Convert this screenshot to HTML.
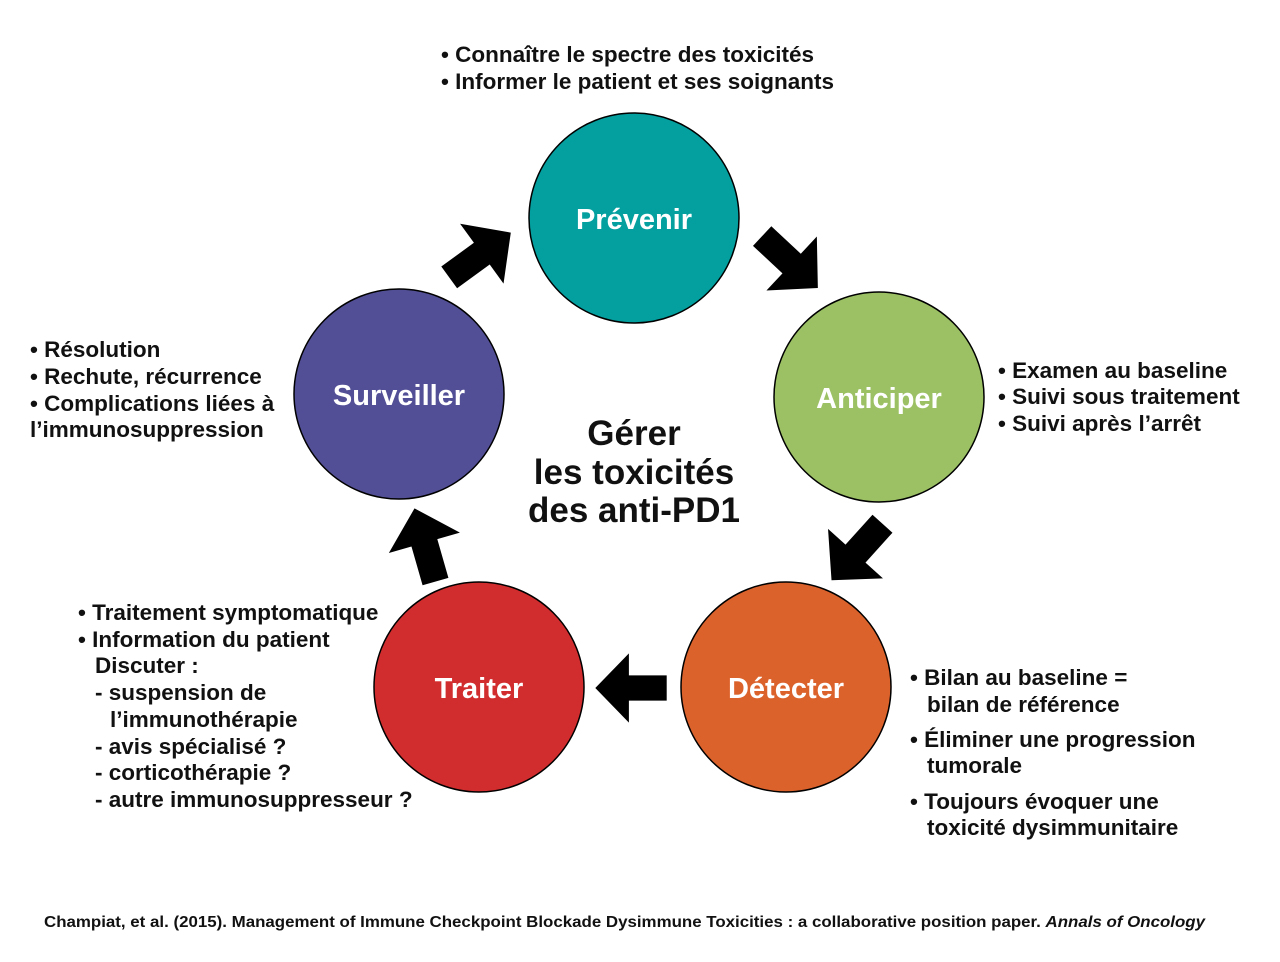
<!DOCTYPE html>
<html><head><meta charset="utf-8"><style>
html,body{margin:0;padding:0;background:#fff;}
svg{display:block;font-family:"Liberation Sans",sans-serif;font-weight:bold;}
.t{font-size:22.5px;fill:#111;}
.c{font-size:29px;fill:#fff;text-anchor:middle;}
.h{font-size:35px;fill:#111;text-anchor:middle;}
</style></head><body>
<svg width="1280" height="962" viewBox="0 0 1280 962">
<defs>
<polygon id="ar" points="-34,-12 2,-12 2,-33 34,0 2,33 2,12 -34,12" fill="#000"/>
</defs>
<circle cx="634" cy="218" r="105" fill="#049f9f" stroke="#000" stroke-width="1.5"/>
<circle cx="879" cy="397" r="105" fill="#9cc164" stroke="#000" stroke-width="1.5"/>
<circle cx="786" cy="687" r="105" fill="#dc622c" stroke="#000" stroke-width="1.5"/>
<circle cx="479" cy="687" r="105" fill="#d22d2e" stroke="#000" stroke-width="1.5"/>
<circle cx="399" cy="394" r="105" fill="#524f96" stroke="#000" stroke-width="1.5"/>
<text class="c" x="634" y="229">Prévenir</text>
<text class="c" x="879" y="408">Anticiper</text>
<text class="c" x="786" y="698">Détecter</text>
<text class="c" x="479" y="698">Traiter</text>
<text class="c" x="399" y="405">Surveiller</text>
<use href="#ar" transform="translate(480,255) rotate(-36) scale(1.12)"/>
<use href="#ar" transform="translate(790,262) rotate(43) scale(1.12)"/>
<use href="#ar" transform="translate(857,552) rotate(132) scale(1.12)"/>
<use href="#ar" transform="translate(631,688) rotate(180) scale(1.05)"/>
<use href="#ar" transform="translate(425,545) rotate(-106) scale(1.12)"/>
<text class="h" x="634" y="445">Gérer</text>
<text class="h" x="634" y="484">les toxicités</text>
<text class="h" x="634" y="522">des anti-PD1</text>
<g class="t">
<text x="441" y="62">• Connaître le spectre des toxicités</text>
<text x="441" y="89">• Informer le patient et ses soignants</text>
<text x="998" y="378">• Examen au baseline</text>
<text x="998" y="404">• Suivi sous traitement</text>
<text x="998" y="431">• Suivi après l’arrêt</text>
<text x="30" y="357">• Résolution</text>
<text x="30" y="384">• Rechute, récurrence</text>
<text x="30" y="411">• Complications liées à</text>
<text x="30" y="437">l’immunosuppression</text>
<text x="78" y="620">• Traitement symptomatique</text>
<text x="78" y="647">• Information du patient</text>
<text x="95" y="673">Discuter :</text>
<text x="95" y="700">- suspension de</text>
<text x="110" y="727">l’immunothérapie</text>
<text x="95" y="754">- avis spécialisé ?</text>
<text x="95" y="780">- corticothérapie ?</text>
<text x="95" y="807">- autre immunosuppresseur ?</text>
<text x="910" y="685">• Bilan au baseline =</text>
<text x="927" y="712">bilan de référence</text>
<text x="910" y="747">• Éliminer une progression</text>
<text x="927" y="773">tumorale</text>
<text x="910" y="809">• Toujours évoquer une</text>
<text x="927" y="835">toxicité dysimmunitaire</text>
</g>
<text x="44" y="927" style="font-size:16px;fill:#111;font-weight:bold" textLength="1161" lengthAdjust="spacingAndGlyphs">Champiat, et al. (2015). Management of Immune Checkpoint Blockade Dysimmune Toxicities : a collaborative position paper. <tspan font-style="italic">Annals of Oncology</tspan></text>
</svg>
</body></html>
